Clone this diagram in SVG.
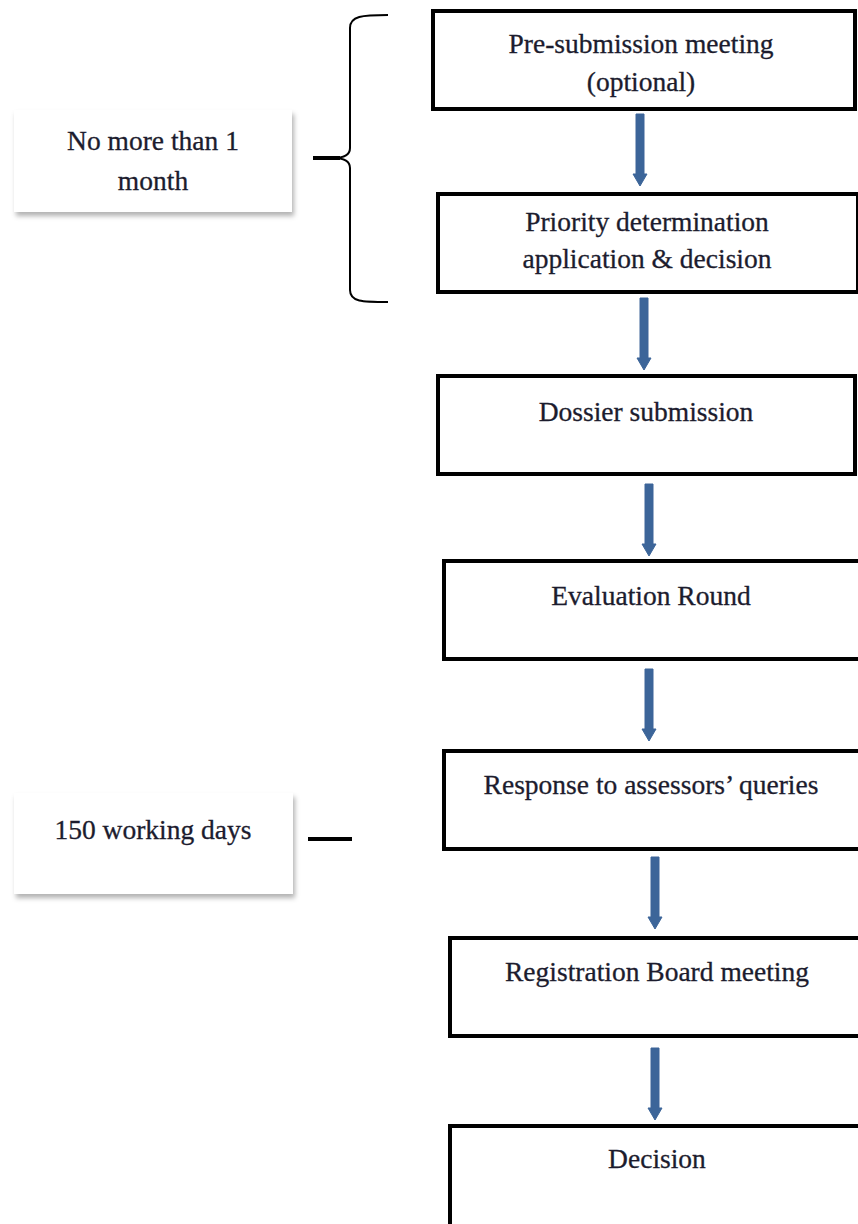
<svg xmlns="http://www.w3.org/2000/svg" width="858" height="1224" viewBox="0 0 858 1224">
<style>
.box{fill:#fff;stroke:#000;stroke-width:4}
.note{fill:#fff;stroke:none}
.t{font-family:"Liberation Serif","Times New Roman",serif;font-size:27.5px;fill:#1c1c2e;stroke:#1c1c2e;stroke-width:0.3;text-anchor:middle}
.arr{fill:#3c6599;stroke:#3c6599;stroke-width:1;stroke-linejoin:round}
.br{fill:none;stroke:#000;stroke-width:2}
.tick{stroke:#000;stroke-width:4}
</style>
<defs>
<filter id="sh" x="-10%" y="-10%" width="130%" height="140%">
<feDropShadow dx="2" dy="4" stdDeviation="2.5" flood-color="#000" flood-opacity="0.3"/>
</filter>
<path id="ar" d="M-4,0 H4 V60 H7 L0,72 L-7,60 H-4 Z"/>
</defs>
<g id="note1">
<rect class="note" x="14" y="110" width="278" height="102" filter="url(#sh)"/>
<text class="t" x="153" y="150">No more than 1</text>
<text class="t" x="153" y="190">month</text>
</g>
<g id="note2">
<rect class="note" x="14" y="793" width="279" height="101" filter="url(#sh)"/>
<text class="t" x="153" y="839">150 working days</text>
</g>
<g id="brace">
<path class="br" d="M388,15 C362,15 350,16 350,28 V148 C350,156 342,158 333,158 C342,158 350,160 350,168 V290 C350,302 362,302 388,302"/>
<line class="tick" x1="313" y1="158" x2="340" y2="158"/>
<line class="tick" x1="308" y1="839" x2="352" y2="839"/>
</g>
<g id="n1">
<rect class="box" x="433" y="11" width="422" height="98"/>
<text class="t" x="641" y="53">Pre-submission meeting</text>
<text class="t" x="641" y="91">(optional)</text>
</g>
<g id="n2">
<rect class="box" x="438" y="194" width="420" height="98"/>
<text class="t" x="647" y="231">Priority determination</text>
<text class="t" x="647" y="268">application &amp; decision</text>
</g>
<g id="n3">
<rect class="box" x="438" y="376" width="417" height="98"/>
<text class="t" x="646" y="421">Dossier submission</text>
</g>
<g id="n4">
<rect class="box" x="444" y="561" width="416" height="98"/>
<text class="t" x="651" y="605">Evaluation Round</text>
</g>
<g id="n5">
<rect class="box" x="444" y="751" width="416" height="98"/>
<text class="t" x="651" y="794">Response to assessors’ queries</text>
</g>
<g id="n6">
<rect class="box" x="450" y="938" width="410" height="98"/>
<text class="t" x="657" y="981">Registration Board meeting</text>
</g>
<g id="n7">
<rect class="box" x="450" y="1126" width="410" height="110"/>
<text class="t" x="657" y="1168">Decision</text>
</g>
<g id="connectors">
<use href="#ar" class="arr" x="640" y="114"/>
<use href="#ar" class="arr" x="644" y="298"/>
<use href="#ar" class="arr" x="649" y="484"/>
<use href="#ar" class="arr" x="649" y="669"/>
<use href="#ar" class="arr" x="655" y="857"/>
<use href="#ar" class="arr" x="655" y="1048"/>
</g>
</svg>
